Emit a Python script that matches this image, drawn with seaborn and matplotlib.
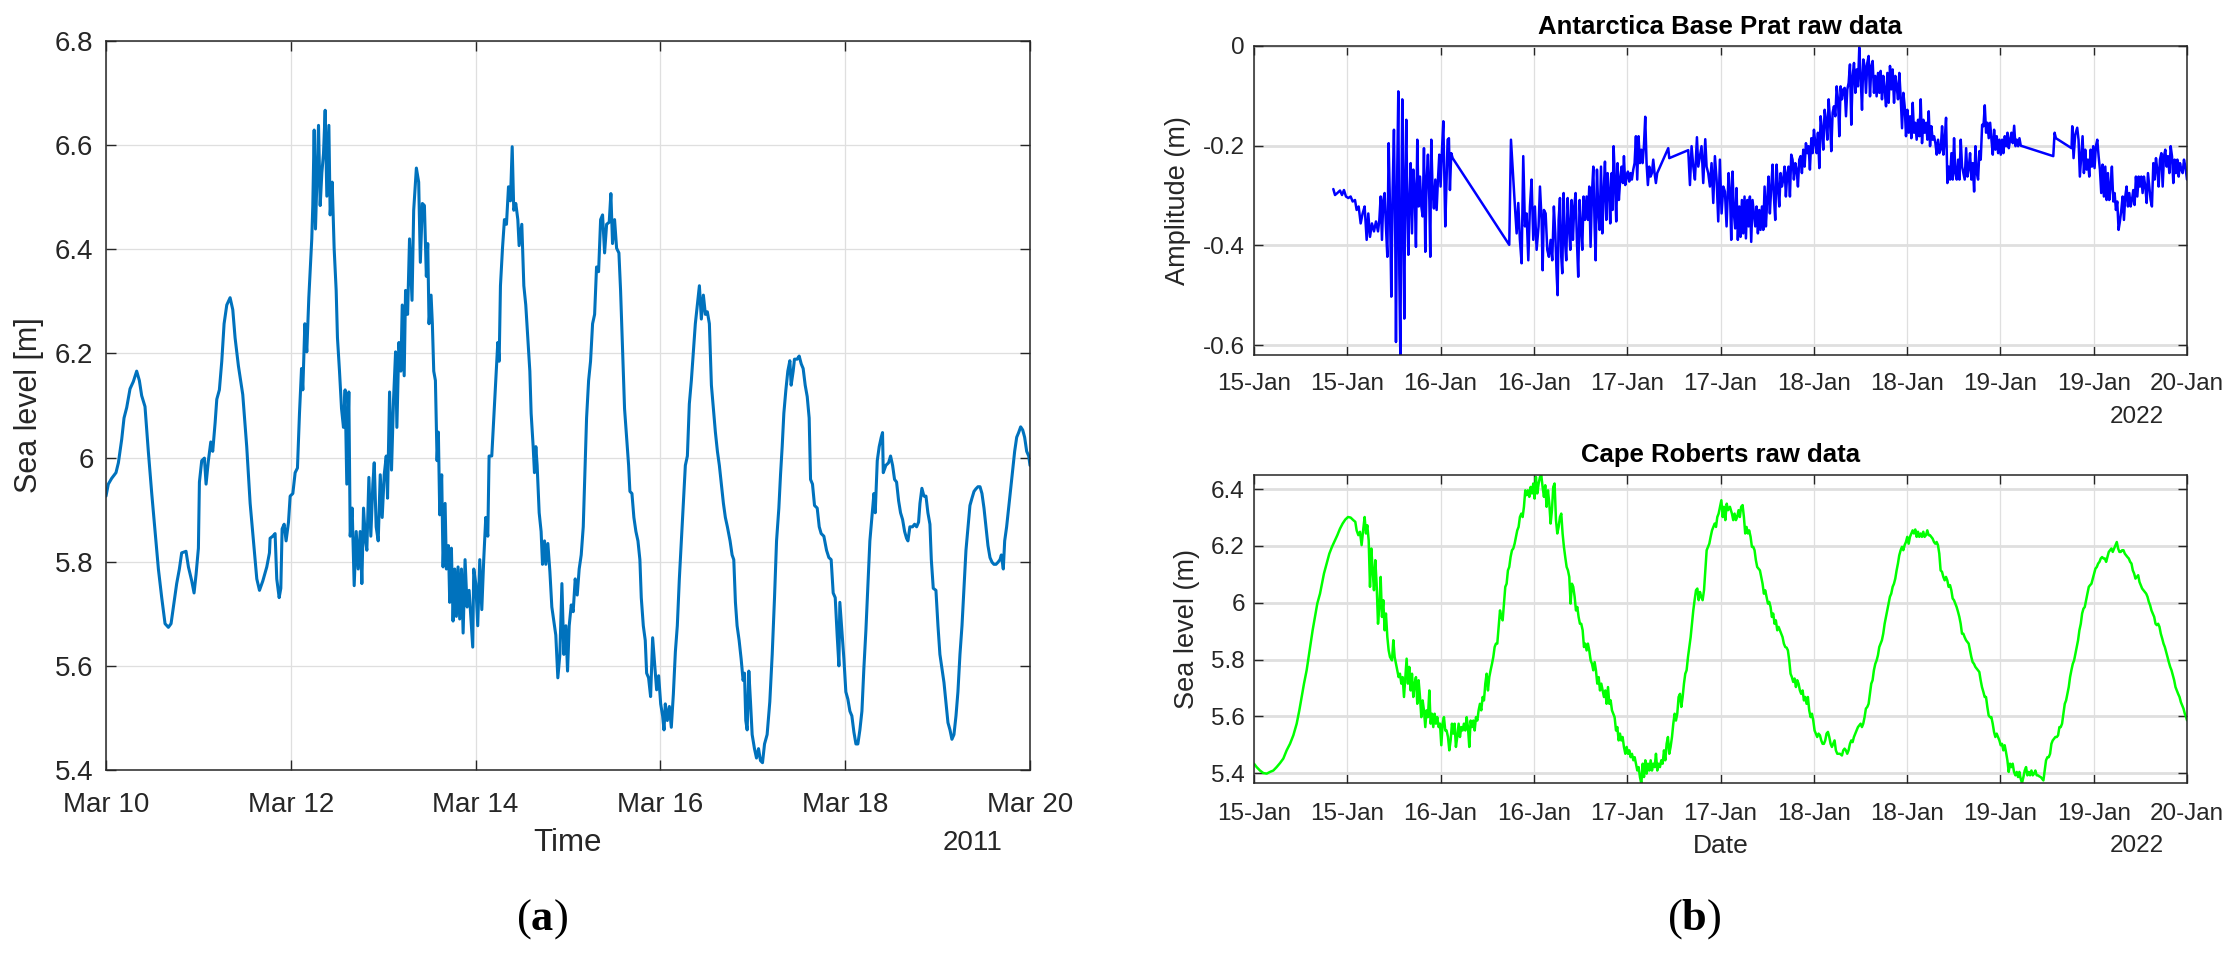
"""Sea level records: (a) tide gauge, March 2011; (b) Antarctic stations, January 2022."""

import matplotlib

matplotlib.use("Agg")

import matplotlib.dates as mdates
import matplotlib.pyplot as plt
import matplotlib.ticker as mticker
import pandas as pd
import seaborn as sns

# ---- panel (a): sea level [m], time in days after 2011-03-10 00:00 ----
A_START = "2011-03-10"
a_days = [
    0, 0.025, 0.061, 0.108, 0.134, 0.17, 0.195, 0.224, 0.26, 0.296,
    0.332, 0.361, 0.386, 0.422, 0.458, 0.495, 0.531, 0.567, 0.603, 0.639,
    0.675, 0.704, 0.736, 0.765, 0.794, 0.819, 0.866, 0.892, 0.928, 0.953,
    0.975, 1.0, 1.011, 1.036, 1.065, 1.083, 1.108, 1.134, 1.155, 1.181,
    1.199, 1.227, 1.253, 1.278, 1.307, 1.343, 1.372, 1.397, 1.433, 1.48,
    1.523, 1.56, 1.596, 1.632, 1.661, 1.697, 1.74, 1.769, 1.776, 1.805,
    1.83, 1.848, 1.874, 1.892, 1.906, 1.928, 1.949, 1.975, 1.993, 2.022,
    2.047, 2.072, 2.094, 2.116, 2.13, 2.152, 2.173, 2.195, 2.209, 2.227,
    2.238, 2.253, 2.267, 2.282, 2.3, 2.318, 2.336, 2.354, 2.372, 2.39,
    2.412, 2.426, 2.448, 2.469, 2.491, 2.505, 2.527, 2.549, 2.57, 2.588,
    2.606, 2.628, 2.643, 2.664, 2.686, 2.708, 2.729, 2.751, 2.769, 2.787,
    2.809, 2.823, 2.845, 2.866, 2.888, 2.903, 2.924, 2.946, 2.968, 2.989,
    3.011, 3.033, 3.047, 3.069, 3.09, 3.112, 3.134, 3.148, 3.17, 3.191,
    3.206, 3.227, 3.242, 3.264, 3.285,
    3.312, 3.33, 3.359, 3.384, 3.402, 3.424, 3.446, 3.467, 3.482, 3.496,
    3.518, 3.532, 3.547, 3.565, 3.583, 3.597, 3.612, 3.633, 3.648, 3.67,
    3.684, 3.706, 3.72, 3.738, 3.756, 3.774, 3.792, 3.81, 3.828, 3.847,
    3.865, 3.886, 3.908, 3.93, 3.951, 3.969, 3.98, 4.002, 4.023, 4.045,
    4.067, 4.088, 4.11, 4.132, 4.146, 4.175, 4.197, 4.219, 4.24, 4.255,
    4.269, 4.291, 4.312, 4.334, 4.356, 4.377, 4.396, 4.413, 4.435, 4.457,
    4.471, 4.5, 4.522, 4.543, 4.565, 4.587, 4.601, 4.623, 4.637, 4.652,
    4.666, 4.688, 4.709, 4.724, 4.746, 4.76, 4.782, 4.804, 4.825, 4.847,
    4.868, 4.89, 4.912, 4.934, 4.955, 4.977, 4.995, 5.013, 5.035, 5.056,
    5.078, 5.1, 5.121, 5.143, 5.165, 5.179, 5.201, 5.223, 5.244, 5.266,
    5.288, 5.309, 5.331, 5.353, 5.374, 5.396, 5.418, 5.446, 5.464, 5.482,
    5.504, 5.526, 5.551, 5.569, 5.591, 5.612, 5.634, 5.656, 5.67, 5.692,
    5.713, 5.735, 5.757, 5.778, 5.793, 5.815, 5.836, 5.851, 5.872, 5.894,
    5.916, 5.938, 5.959, 5.981, 6.003, 6.024, 6.039, 6.053, 6.075, 6.097,
    6.118, 6.14, 6.162, 6.183, 6.205, 6.227, 6.248, 6.27, 6.292, 6.313,
    6.335, 6.357, 6.378, 6.4, 6.422, 6.443, 6.465, 6.487, 6.508, 6.53,
    6.552, 6.573, 6.595, 6.617, 6.638, 6.66, 6.682, 6.703, 6.725, 6.754,
    6.776, 6.794, 6.812, 6.83, 6.852, 6.874, 6.895, 6.91, 6.924, 6.939,
    6.957, 6.975, 6.993, 7.018, 7.04, 7.062, 7.083, 7.105, 7.127, 7.155,
    7.184, 7.21, 7.235, 7.257, 7.282, 7.3, 7.318, 7.336, 7.358, 7.379,
    7.401, 7.415, 7.437, 7.451, 7.48, 7.502, 7.524, 7.545, 7.567, 7.589,
    7.61, 7.625, 7.646, 7.668, 7.697, 7.719, 7.74, 7.769, 7.798, 7.823,
    7.848, 7.87, 7.892, 7.913, 7.932, 7.942, 7.964, 7.986, 8.007, 8.029,
    8.051, 8.072, 8.094, 8.116, 8.137, 8.159, 8.181, 8.202, 8.224, 8.246,
    8.267, 8.293, 8.311, 8.325, 8.347, 8.368, 8.39, 8.404, 8.412, 8.44,
    8.469, 8.491, 8.513, 8.534, 8.556, 8.578, 8.599, 8.621, 8.643, 8.664,
    8.679, 8.7, 8.729, 8.751, 8.773, 8.794, 8.809, 8.83, 8.852, 8.874,
    8.895, 8.917, 8.932, 8.953, 8.982, 9.004, 9.025, 9.047, 9.069, 9.09,
    9.112, 9.134, 9.155, 9.177, 9.199, 9.22, 9.242, 9.264, 9.285, 9.307,
    9.329, 9.35, 9.372, 9.394, 9.415, 9.437, 9.459, 9.48, 9.502, 9.524,
    9.545, 9.567, 9.589, 9.61, 9.632, 9.654, 9.675, 9.69, 9.711, 9.726,
    9.747, 9.769, 9.791, 9.812, 9.834, 9.856, 9.877, 9.899, 9.921, 9.942,
    9.964, 9.986, 10.0,
]
a_level = [
    5.926, 5.949, 5.96, 5.971, 5.99, 6.035, 6.076, 6.096, 6.132, 6.146,
    6.166, 6.148, 6.119, 6.098, 6.012, 5.931, 5.858, 5.786, 5.731, 5.681,
    5.674, 5.681, 5.722, 5.758, 5.786, 5.817, 5.82, 5.79, 5.763, 5.74,
    5.776, 5.826, 5.953, 5.994, 5.999, 5.949, 5.994, 6.03, 6.012, 6.067,
    6.112, 6.13, 6.185, 6.257, 6.293, 6.307, 6.284, 6.23, 6.176, 6.121,
    6.021, 5.912, 5.84, 5.767, 5.745, 5.763, 5.79, 5.817, 5.845, 5.849,
    5.854, 5.767, 5.731, 5.749, 5.863, 5.872, 5.84, 5.876, 5.926, 5.931,
    5.971, 5.98, 6.085, 6.171, 6.13, 6.257, 6.203, 6.307, 6.357, 6.42,
    6.484, 6.629, 6.439, 6.529, 6.638, 6.484, 6.547, 6.584, 6.667, 6.502,
    6.638, 6.466, 6.529, 6.402, 6.321, 6.23, 6.166, 6.094, 6.058, 6.13,
    5.949, 6.126, 5.849, 5.903, 5.754, 5.858, 5.786, 5.858, 5.758, 5.903,
    5.84, 5.822, 5.962, 5.849, 5.949, 5.99, 5.867, 5.84, 5.967, 5.885,
    5.967, 6.003, 5.922, 6.126, 5.976, 6.112, 6.203, 6.058, 6.221, 6.166,
    6.293, 6.157, 6.321, 6.275, 6.42,
    6.302, 6.475, 6.556, 6.529, 6.375, 6.488, 6.484, 6.348, 6.411, 6.257,
    6.312, 6.257, 6.166, 6.148, 5.994, 6.049, 5.89, 5.967, 5.79, 5.912,
    5.786, 5.831, 5.722, 5.826, 5.686, 5.786, 5.695, 5.79, 5.69, 5.786,
    5.663, 5.804, 5.713, 5.745, 5.686, 5.636, 5.786, 5.758, 5.677, 5.804,
    5.708, 5.804, 5.885, 5.849, 6.003, 6.003, 6.076, 6.148, 6.221, 6.185,
    6.33, 6.402, 6.457, 6.448, 6.52, 6.493, 6.597, 6.475, 6.488, 6.457,
    6.407, 6.448, 6.33, 6.293, 6.23, 6.166, 6.085, 6.021, 5.971, 6.021,
    5.985, 5.894, 5.858, 5.795, 5.84, 5.795, 5.835, 5.781, 5.713, 5.686,
    5.659, 5.577, 5.622, 5.758, 5.622, 5.677, 5.59, 5.677, 5.717, 5.704,
    5.767, 5.736, 5.786, 5.813, 5.867, 5.949, 6.076, 6.148, 6.185, 6.257,
    6.275, 6.366, 6.357, 6.457, 6.466, 6.393, 6.448, 6.452, 6.507, 6.411,
    6.457, 6.402, 6.393, 6.321, 6.203, 6.094, 6.039, 5.985, 5.935, 5.931,
    5.885, 5.858, 5.84, 5.804, 5.731, 5.677, 5.649, 5.586, 5.577, 5.541,
    5.654, 5.604, 5.554, 5.581, 5.527, 5.504, 5.477, 5.527, 5.495, 5.522,
    5.482, 5.545, 5.627, 5.677, 5.767, 5.84, 5.908, 5.985, 6.003, 6.103,
    6.148, 6.203, 6.257, 6.293, 6.33, 6.266, 6.312, 6.275, 6.28, 6.257,
    6.139, 6.094, 6.049, 6.012, 5.985, 5.949, 5.912, 5.885, 5.867, 5.84,
    5.813, 5.804, 5.722, 5.677, 5.649, 5.613, 5.572, 5.586, 5.495, 5.477,
    5.59, 5.531, 5.468, 5.441, 5.423, 5.441, 5.418, 5.414, 5.45, 5.468,
    5.531, 5.622, 5.731, 5.84, 5.903, 5.967, 6.021, 6.085, 6.13, 6.166,
    6.186, 6.139, 6.166, 6.189, 6.189, 6.195, 6.18, 6.171, 6.139, 6.117,
    6.076, 5.958, 5.949, 5.908, 5.903, 5.867, 5.854, 5.849, 5.822, 5.808,
    5.804, 5.74, 5.731, 5.659, 5.6, 5.722, 5.668, 5.613, 5.55, 5.536,
    5.513, 5.504, 5.473, 5.45, 5.45, 5.477, 5.513, 5.595, 5.668, 5.758,
    5.84, 5.894, 5.931, 5.894, 5.994, 6.021, 6.039, 6.048, 5.971, 5.985,
    5.99, 6.003, 5.985, 5.958, 5.953, 5.917, 5.894, 5.881, 5.858, 5.845,
    5.84, 5.867, 5.867, 5.872, 5.867, 5.876, 5.912, 5.941, 5.926, 5.926,
    5.894, 5.872, 5.804, 5.749, 5.745, 5.677, 5.622, 5.595, 5.568, 5.531,
    5.491, 5.477, 5.459, 5.468, 5.504, 5.55, 5.622, 5.677, 5.749, 5.822,
    5.867, 5.908, 5.922, 5.935, 5.94, 5.944, 5.944, 5.931, 5.903, 5.867,
    5.831, 5.808, 5.799, 5.795, 5.795, 5.799, 5.804, 5.813, 5.786, 5.84,
    5.867, 5.903, 5.94, 5.976, 6.012, 6.039, 6.048, 6.059, 6.053, 6.039,
    6.012, 6.003, 5.985,
]
a_xticks = ["2011-03-10", "2011-03-12", "2011-03-14", "2011-03-16", "2011-03-18", "2011-03-20"]
a_yticks = [5.4, 5.6, 5.8, 6.0, 6.2, 6.4, 6.6, 6.8]

# ---- panel (b): time in hours after 2022-01-15 00:00 ----
B_START = "2022-01-15"
prat_hours = [
    10.2, 10.42, 10.72, 11.06, 11.32, 11.57, 11.83, 12.13, 12.43, 12.69,
    12.99, 13.2, 13.46, 13.72, 13.97, 14.23, 14.49, 14.7, 14.92, 15.17,
    15.43, 15.69, 15.95, 16.12, 16.29, 16.46, 16.63, 16.8, 16.97, 17.15,
    17.32, 17.49, 17.66, 17.83, 18.0, 18.17, 18.26, 18.43, 18.56, 18.69,
    18.82, 18.95, 19.07, 19.2, 19.33, 19.46, 19.59, 19.72, 19.85, 19.97,
    20.15, 20.32, 20.49, 20.66, 20.83, 21.0, 21.17, 21.35, 21.52, 21.69,
    21.86, 22.03, 22.2, 22.37, 22.55, 22.67, 22.8, 22.97, 23.14, 23.32,
    23.49, 23.66, 23.83, 24.0, 24.18, 24.35, 24.47, 24.6, 24.77, 24.9,
    25.07, 25.2, 25.37, 25.55, 32.83, 33.05, 33.35, 33.56, 33.78, 33.99,
    34.2, 34.42, 34.63, 34.85, 35.06, 35.28, 35.49, 35.7, 35.92, 36.13,
    36.35, 36.6, 36.78, 36.99, 37.12, 37.29, 37.51, 37.72, 37.93, 38.15,
    38.36, 38.57, 38.75, 38.92, 39.05, 39.18, 39.35, 39.52, 39.65, 39.82,
    39.99, 40.16, 40.34, 40.51, 40.68, 40.85, 41.02, 41.19, 41.36, 41.53,
    41.7, 41.88, 42.05, 42.22, 42.39, 42.56, 42.78, 42.95, 43.12, 43.29,
    43.47, 43.64, 43.81, 43.94, 44.11, 44.28, 44.45, 44.63, 44.8, 44.97,
    45.14, 45.31, 45.48, 45.65, 45.82, 46.0, 46.12, 46.25, 46.42, 46.59,
    46.76, 46.93, 47.1, 47.28, 47.45, 47.58, 47.75, 47.92, 48.09, 48.26,
    48.43, 48.6, 48.78, 48.95, 49.12, 49.29, 49.46, 49.63, 49.81, 49.98,
    50.15, 50.32, 50.49, 50.66, 50.84, 51.01, 51.18, 51.35, 51.52, 51.69,
    51.86, 53.28, 53.41, 55.85, 56.07, 56.28, 56.5, 56.71, 56.97, 57.14,
    57.35, 57.56, 57.78, 58.04, 58.21, 58.42, 58.64, 58.85, 59.07, 59.28,
    59.5, 59.71, 59.92, 60.14, 60.36, 60.57, 60.78, 61.04,
    61.21, 61.38, 61.55, 61.72, 61.89, 62.06, 62.23, 62.41, 62.58, 62.75,
    62.92, 63.09, 63.27, 63.44, 63.61, 63.78, 63.95, 64.12, 64.3, 64.47,
    64.64, 64.81, 64.98, 65.15, 65.33, 65.5, 65.67, 65.84, 66.01, 66.18,
    66.35, 66.53, 66.7, 66.87, 67.04, 67.21, 67.38, 67.56, 67.73, 67.9,
    68.07, 68.24, 68.41, 68.59, 68.76, 68.93, 69.1, 69.27, 69.44, 69.62,
    69.79, 69.96, 70.13, 70.3, 70.47, 70.65, 70.82, 70.99, 71.16, 71.33,
    71.5, 71.68, 71.85, 72.02, 72.19, 72.36, 72.53, 72.71, 72.88, 73.05,
    73.22, 73.39, 73.56, 73.74, 73.91, 74.08, 74.25, 74.42, 74.59, 74.77,
    74.94, 75.11, 75.28, 75.45, 75.62, 75.8, 75.97, 76.14, 76.31, 76.48,
    76.65, 76.82, 77.0, 77.17, 77.34, 77.51, 77.68, 77.85, 78.02, 78.2,
    78.37, 78.54, 78.71, 78.88, 79.05, 79.23, 79.4, 79.57, 79.74, 79.91,
    80.08, 80.26, 80.43, 80.6, 80.77, 80.94, 81.11, 81.29, 81.46, 81.63,
    81.8, 81.97, 82.14, 82.32, 82.49, 82.66, 82.83, 83.0, 83.17, 83.35,
    83.52, 83.69, 83.86, 84.03, 84.2, 84.38, 84.55, 84.72, 84.89, 85.06,
    85.23, 85.41, 85.58, 85.75, 85.92, 86.09, 86.26, 86.44, 86.61, 86.78,
    86.95, 87.12, 87.29, 87.47, 87.64, 87.81, 87.98, 88.15, 88.32, 88.5,
    88.67, 88.84, 89.01, 89.18, 89.35, 89.53, 89.7, 89.87, 90.04, 90.21,
    90.38, 90.56, 90.73, 90.9, 91.07, 91.24, 91.41, 91.59, 91.76, 91.93,
    92.1, 92.27, 92.44, 92.62, 92.79, 92.96, 93.13, 93.3, 93.47, 93.65,
    93.82, 93.99, 94.16, 94.33, 94.5, 94.68, 94.85, 95.02, 95.19, 95.36,
    95.53, 95.71, 95.88, 96.05, 96.22, 96.39, 96.56, 96.74, 96.91, 97.08,
    97.25, 97.42, 97.59, 97.77, 97.94, 98.11, 98.28, 98.45, 98.62, 102.8,
    102.97, 103.14, 105.15, 105.24, 105.41, 105.62, 105.88, 106.05, 106.22, 106.4,
    106.57, 106.74, 106.91, 107.08, 107.25, 107.43, 107.6, 107.77, 107.94, 108.11,
    108.28, 108.46, 108.63, 108.8, 108.97, 109.14, 109.31, 109.49, 109.66, 109.83,
    110.0, 110.17, 110.34, 110.52, 110.69, 110.86, 111.03, 111.2, 111.37, 111.55,
    111.72, 111.89, 112.06, 112.23, 112.4, 112.58, 112.75, 112.92, 113.09, 113.26,
    113.43, 113.61, 113.78, 113.95, 114.12, 114.29, 114.46, 114.64, 114.81, 114.98,
    115.15, 115.32, 115.49, 115.67, 115.84, 116.01, 116.18, 116.35, 116.52, 116.7,
    116.87, 117.04, 117.21, 117.38, 117.55, 117.73, 117.9, 118.07, 118.24, 118.41,
    118.58, 118.76, 118.93, 119.1, 119.27, 119.44, 119.61, 119.79, 120.0,
]
prat_amp = [
    -0.287, -0.299, -0.295, -0.29, -0.299, -0.289, -0.302, -0.305, -0.302, -0.312,
    -0.309, -0.329, -0.322, -0.356, -0.336, -0.322, -0.389, -0.336, -0.383, -0.356,
    -0.372, -0.352, -0.372, -0.349, -0.302, -0.389, -0.309, -0.295, -0.362, -0.423,
    -0.195, -0.322, -0.503, -0.289, -0.168, -0.389, -0.594, -0.242, -0.091, -0.456,
    -0.621, -0.322, -0.107, -0.356, -0.547, -0.255, -0.148, -0.322, -0.419, -0.322,
    -0.235, -0.376, -0.248, -0.289, -0.403, -0.188, -0.322, -0.262, -0.322, -0.342,
    -0.205, -0.413, -0.268, -0.218, -0.309, -0.423, -0.188, -0.289, -0.326, -0.268,
    -0.329, -0.268, -0.218, -0.282, -0.208, -0.151, -0.255, -0.362, -0.268, -0.188,
    -0.185, -0.289, -0.215, -0.225, -0.399, -0.188, -0.268, -0.322, -0.376, -0.315,
    -0.389, -0.436, -0.221, -0.362, -0.336, -0.43, -0.322, -0.268, -0.389, -0.322,
    -0.409, -0.362, -0.282, -0.349, -0.45, -0.329, -0.336, -0.409, -0.423, -0.389,
    -0.43, -0.322, -0.376, -0.456, -0.5, -0.349, -0.305, -0.423, -0.456, -0.295,
    -0.389, -0.43, -0.305, -0.362, -0.409, -0.309, -0.389, -0.322, -0.295, -0.389,
    -0.463, -0.309, -0.362, -0.409, -0.302, -0.349, -0.302, -0.349, -0.282, -0.403,
    -0.295, -0.242, -0.362, -0.43, -0.248, -0.329, -0.369, -0.242, -0.376, -0.295,
    -0.232, -0.349, -0.255, -0.289, -0.356, -0.255, -0.329, -0.201, -0.268, -0.352,
    -0.235, -0.309, -0.268, -0.242, -0.275, -0.221, -0.279, -0.262, -0.252, -0.272,
    -0.255, -0.268, -0.248, -0.235, -0.181, -0.268, -0.181, -0.235, -0.208, -0.235,
    -0.201, -0.142, -0.235, -0.279, -0.242, -0.262, -0.255, -0.228, -0.255, -0.275,
    -0.255, -0.205, -0.225, -0.209, -0.279, -0.201, -0.242, -0.268, -0.183, -0.242,
    -0.221, -0.201, -0.275, -0.187, -0.242, -0.255, -0.282, -0.235, -0.315, -0.221,
    -0.268, -0.352, -0.228, -0.336, -0.282, -0.292, -0.362, -0.255,
    -0.289, -0.389, -0.252, -0.336, -0.366, -0.285, -0.389, -0.322, -0.383, -0.309,
    -0.376, -0.302, -0.386, -0.309, -0.362, -0.302, -0.393, -0.309, -0.336, -0.362,
    -0.322, -0.376, -0.329, -0.369, -0.322, -0.369, -0.282, -0.362, -0.309, -0.262,
    -0.336, -0.282, -0.238, -0.302, -0.349, -0.238, -0.282, -0.322, -0.255, -0.282,
    -0.268, -0.242, -0.302, -0.255, -0.242, -0.302, -0.218, -0.228, -0.268, -0.235,
    -0.248, -0.282, -0.228, -0.221, -0.255, -0.208, -0.242, -0.195, -0.215, -0.201,
    -0.248, -0.185, -0.215, -0.168, -0.195, -0.215, -0.174, -0.245, -0.141, -0.168,
    -0.208, -0.128, -0.148, -0.188, -0.107, -0.148, -0.211, -0.134, -0.121, -0.141,
    -0.081, -0.107, -0.181, -0.081, -0.107, -0.087, -0.084, -0.141, -0.087, -0.074,
    -0.037, -0.158, -0.06, -0.034, -0.094, -0.047, -0.081, -0.003, -0.06, -0.128,
    -0.027, -0.04, -0.094, -0.034, -0.02, -0.101, -0.04, -0.03, -0.094, -0.06,
    -0.101, -0.054, -0.094, -0.05, -0.107, -0.06, -0.087, -0.121, -0.054, -0.114,
    -0.04, -0.087, -0.047, -0.114, -0.06, -0.081, -0.107, -0.054, -0.101, -0.165,
    -0.094, -0.121, -0.181, -0.128, -0.174, -0.141, -0.185, -0.114, -0.174, -0.154,
    -0.188, -0.148, -0.181, -0.107, -0.195, -0.148, -0.174, -0.154, -0.188, -0.131,
    -0.201, -0.161, -0.188, -0.181, -0.195, -0.218, -0.188, -0.215, -0.208, -0.161,
    -0.218, -0.188, -0.144, -0.275, -0.242, -0.268, -0.215, -0.268, -0.185, -0.255,
    -0.268, -0.228, -0.268, -0.188, -0.242, -0.255, -0.268, -0.205, -0.262, -0.245,
    -0.215, -0.268, -0.235, -0.292, -0.201, -0.255, -0.268, -0.211, -0.228, -0.158,
    -0.161, -0.119, -0.174, -0.154, -0.185, -0.154, -0.188, -0.218, -0.168, -0.208,
    -0.181, -0.215, -0.188, -0.218, -0.188, -0.215, -0.181, -0.201, -0.174, -0.205,
    -0.188, -0.174, -0.195, -0.16, -0.201, -0.188, -0.201, -0.185, -0.2, -0.221,
    -0.174, -0.185, -0.205, -0.161, -0.225, -0.178, -0.164, -0.188, -0.262, -0.221,
    -0.181, -0.255, -0.208, -0.248, -0.228, -0.262, -0.208, -0.242, -0.201, -0.245,
    -0.201, -0.188, -0.221, -0.248, -0.295, -0.238, -0.302, -0.242, -0.309, -0.255,
    -0.309, -0.282, -0.242, -0.312, -0.295, -0.329, -0.312, -0.369, -0.352, -0.329,
    -0.302, -0.349, -0.302, -0.282, -0.322, -0.295, -0.322, -0.309, -0.289, -0.319,
    -0.262, -0.302, -0.262, -0.282, -0.262, -0.295, -0.262, -0.282, -0.315, -0.255,
    -0.282, -0.309, -0.322, -0.235, -0.268, -0.225, -0.248, -0.282, -0.228, -0.215,
    -0.282, -0.221, -0.208, -0.242, -0.221, -0.255, -0.201, -0.221, -0.275, -0.228,
    -0.255, -0.228, -0.262, -0.235, -0.248, -0.255, -0.228, -0.242, -0.268,
]
prat_yticks = [-0.6, -0.4, -0.2, 0.0]

roberts_hours = [
    0, 0.34, 0.77, 1.2, 1.63, 2.06, 2.49, 2.91, 3.34, 3.77,
    4.2, 4.63, 5.06, 5.49, 5.83, 6.13, 6.43, 6.77, 7.03, 7.29,
    7.54, 7.84, 8.14, 8.49, 8.74, 9.0, 9.34, 9.69, 10.03, 10.42,
    10.72, 11.06, 11.4, 11.74, 12.09, 12.43, 12.77, 13.03, 13.2, 13.42,
    13.63, 13.84, 14.06, 14.23, 14.4, 14.57, 14.75, 14.92, 15.09, 15.26,
    15.43, 15.6, 15.77, 15.95, 16.12, 16.29, 16.46, 16.63, 16.8, 16.97,
    17.15, 17.32, 17.49, 17.75, 17.92, 18.09, 18.26, 18.43, 18.6, 18.77,
    18.95, 19.12, 19.29, 19.46, 19.63, 19.8, 19.97, 20.15, 20.32, 20.49,
    20.66, 20.83, 21.0, 21.17, 21.35, 21.52, 21.69, 21.86, 22.03, 22.2,
    22.37, 22.55, 22.72, 22.89, 23.06, 23.23, 23.4, 23.57, 23.75, 23.92,
    24.09, 24.26, 24.43, 24.6, 24.77, 24.95, 25.12, 25.29, 25.46, 25.63,
    25.8, 25.97, 26.14, 26.32, 26.49, 26.66, 26.83, 27.0, 27.18, 27.35,
    27.52, 27.69, 27.86, 28.03, 28.21, 28.38, 28.55, 28.72, 28.89, 29.06,
    29.23, 29.41, 29.58, 29.75, 29.92, 30.09, 30.26, 30.43, 30.61, 30.78,
    30.95, 31.12, 31.29, 31.46, 31.64, 31.81, 31.98, 32.15, 32.32, 32.49,
    32.66, 32.83, 33.0, 33.18, 33.35, 33.52, 33.69, 33.86, 34.03, 34.2,
    34.38, 34.55, 34.72, 34.89, 35.06, 35.23, 35.41, 35.58, 35.75, 35.92,
    36.09, 36.26, 36.43, 36.61, 36.78, 36.95, 37.12, 37.29, 37.46, 37.63,
    37.81, 37.98, 38.15, 38.32, 38.49, 38.66, 38.84, 39.01, 39.18, 39.35,
    39.52, 39.69, 39.86, 40.03, 40.21, 40.38, 40.55, 40.72, 40.89, 41.06,
    41.24, 41.41, 41.58, 41.75, 41.92, 42.09, 42.27, 42.44, 42.61, 42.78,
    42.95, 43.12, 43.3, 43.47, 43.64, 43.81, 43.98, 44.15, 44.33, 44.5,
    44.67, 44.84, 45.01, 45.18, 45.35, 45.53, 45.7, 45.87, 46.04, 46.21,
    46.38, 46.56, 46.73, 46.9, 47.07, 47.24, 47.41, 47.58, 47.76, 47.93,
    48.1, 48.27, 48.44, 48.61, 48.79, 48.96, 49.13, 49.3, 49.47, 49.64,
    49.82, 49.99, 50.16, 50.33, 50.5, 50.67, 50.85, 51.02, 51.19, 51.35,
    51.53, 51.7, 51.87, 52.04, 52.21, 52.38, 52.56, 52.73, 52.9, 53.07,
    53.24, 53.41, 53.58, 53.76, 53.93, 54.1, 54.27, 54.44, 54.61, 54.79,
    54.96, 55.13, 55.3, 55.47, 55.64, 55.82, 55.99, 56.16, 56.33, 56.5,
    56.67, 56.85, 57.02, 57.19, 57.36, 57.53, 57.7, 57.88, 58.05, 58.22,
    58.39, 58.56, 58.73, 58.91, 59.08, 59.25, 59.42, 59.59, 59.76, 59.94,
    60.11, 60.28, 60.45, 60.62, 60.8, 60.97,
    61.21, 61.47, 61.64, 61.81, 61.98, 62.15, 62.32, 62.49, 62.66, 62.84,
    63.01, 63.18, 63.35, 63.52, 63.69, 63.87, 64.04, 64.21, 64.38, 64.55,
    64.72, 64.89, 65.07, 65.24, 65.41, 65.58, 65.75, 65.92, 66.1, 66.27,
    66.44, 66.61, 66.78, 66.95, 67.12, 67.3, 67.47, 67.64, 67.81, 67.98,
    68.15, 68.33, 68.5, 68.67, 68.84, 69.01, 69.18, 69.35, 69.53, 69.7,
    69.87, 70.04, 70.21, 70.38, 70.56, 70.73, 70.9, 71.07, 71.24, 71.41,
    71.59, 71.76, 71.93, 72.1, 72.27, 72.44, 72.61, 72.79, 72.96, 73.13,
    73.3, 73.47, 73.64, 73.82, 73.99, 74.16, 74.33, 74.5, 74.67, 74.84,
    75.02, 75.19, 75.36, 75.62, 75.79, 75.96, 76.13, 76.3, 76.47, 76.65,
    76.82, 76.99, 77.16, 77.33, 77.5, 77.68, 77.85, 78.02, 78.19, 78.36,
    78.53, 78.7, 78.88, 79.05, 79.22, 79.39, 79.56, 79.73, 79.91, 80.08,
    80.25, 80.42, 80.59, 80.76, 80.93, 81.11, 81.28, 81.45, 81.62, 81.79,
    81.96, 82.14, 82.31, 82.48, 82.65, 82.82, 82.99, 83.17, 83.34, 83.51,
    83.68, 83.85, 84.02, 84.2, 84.37, 84.54, 84.71, 84.88, 85.05, 85.23,
    85.4, 85.57, 85.74, 85.91, 86.08, 86.25, 86.43, 86.6, 86.77, 86.94,
    87.11, 87.28, 87.46, 87.63, 87.8, 87.97, 88.14, 88.31, 88.49, 88.66,
    88.83, 89.0, 89.17, 89.34, 89.52, 89.69, 89.86, 90.03, 90.2, 90.37,
    90.55, 90.72, 90.89, 91.06, 91.23, 91.4, 91.58, 91.75, 91.92, 92.09,
    92.26, 92.43, 92.6, 92.78, 92.95, 93.12, 93.29, 93.46, 93.63, 93.81,
    93.98, 94.15, 94.32, 94.49, 94.66, 94.84, 95.01, 95.18, 95.35, 95.52,
    95.69, 95.87, 96.04, 96.21, 96.38, 96.55, 96.72, 96.9, 97.07, 97.24,
    97.41, 97.58, 97.75, 97.93, 98.1, 98.27, 98.44, 98.61, 98.78, 98.96,
    99.13, 99.3, 99.47, 99.64, 99.81, 99.99, 100.16, 100.33, 100.5, 100.67,
    100.84, 101.02, 101.19, 101.36, 101.53, 101.7, 101.87, 102.05, 102.22, 102.39,
    102.56, 102.73, 102.9, 103.07, 103.25, 103.42, 103.59, 103.76, 103.93, 104.1,
    104.28, 104.45, 104.62, 104.79, 104.96, 105.13, 105.31, 105.48, 105.65, 105.82,
    105.99, 106.16, 106.34, 106.51, 106.68, 106.85, 107.02, 107.19, 107.37, 107.54,
    107.71, 107.88, 108.05, 108.22, 108.4, 108.57, 108.74, 108.91, 109.08, 109.25,
    109.43, 109.6, 109.77, 109.94, 110.11, 110.28, 110.45, 110.63, 110.8, 110.97,
    111.14, 111.31, 111.48, 111.66, 111.83, 112.0, 112.17, 112.34, 112.51, 112.69,
    112.86, 113.03, 113.2, 113.37, 113.54, 113.72, 113.89, 114.06, 114.23, 114.4,
    114.57, 114.75, 114.92, 115.09, 115.26, 115.43, 115.6, 115.78, 115.95, 116.12,
    116.29, 116.46, 116.63, 116.81, 116.98, 117.15, 117.32, 117.49, 117.66, 117.84,
    118.01, 118.18, 118.35, 118.52, 118.69, 118.86, 119.04, 119.21, 119.38, 119.55,
    119.72, 119.89, 120.0,
]
roberts_level = [
    5.433, 5.421, 5.409, 5.4, 5.398, 5.404, 5.409, 5.421, 5.435, 5.451,
    5.48, 5.503, 5.533, 5.574, 5.621, 5.668, 5.715, 5.762, 5.809, 5.856,
    5.903, 5.95, 5.997, 6.032, 6.067, 6.103, 6.138, 6.173, 6.197, 6.22,
    6.238, 6.261, 6.279, 6.293, 6.302, 6.3, 6.291, 6.285, 6.255, 6.238,
    6.25, 6.203, 6.261, 6.302, 6.244, 6.273, 6.22, 6.056, 6.191, 6.114,
    6.044, 6.15, 6.067, 5.926, 5.985, 6.091, 5.95, 6.009, 5.903, 5.962,
    5.879, 5.832, 5.809, 5.797, 5.868, 5.809, 5.785, 5.762, 5.738, 5.75,
    5.715, 5.738, 5.668, 5.733, 5.803, 5.715, 5.774, 5.691, 5.75, 5.668,
    5.715, 5.738, 5.644, 5.727, 5.668, 5.597, 5.656, 5.621, 5.562, 5.621,
    5.597, 5.691, 5.574, 5.609, 5.562, 5.609, 5.574, 5.597, 5.562, 5.574,
    5.498, 5.574, 5.597, 5.55, 5.55, 5.527, 5.48, 5.515, 5.574, 5.539,
    5.574, 5.492, 5.527, 5.574, 5.527, 5.562, 5.55, 5.574, 5.55, 5.597,
    5.562, 5.492, 5.585, 5.562, 5.585, 5.55, 5.597, 5.585, 5.621, 5.644,
    5.621, 5.668, 5.656, 5.715, 5.75, 5.691, 5.738, 5.762, 5.785, 5.809,
    5.844, 5.856, 5.856, 5.915, 5.973, 5.95, 5.938, 5.997, 6.056, 6.067,
    6.114, 6.126, 6.161, 6.185, 6.191, 6.208, 6.232, 6.255, 6.267, 6.302,
    6.314, 6.302, 6.338, 6.396, 6.379, 6.396, 6.373, 6.408, 6.385, 6.42,
    6.367, 6.443, 6.385, 6.42, 6.443, 6.449, 6.408, 6.373, 6.414, 6.338,
    6.396, 6.349, 6.279, 6.326, 6.408, 6.42, 6.291, 6.244, 6.267, 6.302,
    6.314, 6.244, 6.197, 6.161, 6.126, 6.114, 6.091, 5.997, 6.067, 6.056,
    6.021, 5.973, 5.985, 5.95, 5.926, 5.926, 5.903, 5.844, 5.856, 5.832,
    5.856, 5.832, 5.797, 5.785, 5.762, 5.791, 5.762, 5.715, 5.738, 5.691,
    5.715, 5.691, 5.668, 5.691, 5.644, 5.703, 5.644, 5.656, 5.621, 5.609,
    5.597, 5.55, 5.562, 5.515, 5.539, 5.515, 5.527, 5.492, 5.468, 5.492,
    5.468, 5.48, 5.456, 5.468, 5.445, 5.456, 5.433, 5.409, 5.421, 5.386,
    5.362, 5.433, 5.386, 5.445, 5.398, 5.433, 5.409, 5.445, 5.409, 5.433,
    5.421, 5.468, 5.409, 5.433, 5.421, 5.445, 5.433, 5.48, 5.445, 5.503,
    5.527, 5.468, 5.492, 5.527, 5.574, 5.609, 5.585, 5.609, 5.668, 5.679,
    5.633, 5.668, 5.715, 5.75, 5.762, 5.809, 5.844, 5.879, 5.926, 5.973,
    6.009, 6.044, 6.05, 6.009, 6.038, 6.02, 6.009, 6.044, 6.114, 6.185,
    6.197, 6.208, 6.232, 6.255, 6.267, 6.279, 6.267, 6.302, 6.314, 6.338,
    6.361, 6.302, 6.338, 6.291, 6.349, 6.326,
    6.338, 6.314, 6.291, 6.314, 6.291, 6.302, 6.326, 6.302, 6.338, 6.344,
    6.302, 6.244, 6.267, 6.244, 6.255, 6.232, 6.197, 6.197, 6.185, 6.15,
    6.126, 6.12, 6.114, 6.091, 6.067, 6.032, 6.044, 6.021, 5.997, 6.003,
    5.985, 5.95, 5.962, 5.926, 5.938, 5.903, 5.915, 5.903, 5.891, 5.879,
    5.856, 5.844, 5.842, 5.832, 5.797, 5.75, 5.738, 5.721, 5.733, 5.703,
    5.727, 5.715, 5.691, 5.679, 5.691, 5.656, 5.668, 5.644, 5.668, 5.621,
    5.597, 5.609, 5.585, 5.55, 5.539, 5.527, 5.539, 5.533, 5.515, 5.503,
    5.503, 5.515, 5.539, 5.545, 5.527, 5.503, 5.492, 5.503, 5.515, 5.48,
    5.468, 5.468, 5.468, 5.462, 5.48, 5.486, 5.48, 5.468, 5.48, 5.503,
    5.515, 5.509, 5.527, 5.539, 5.55, 5.562, 5.568, 5.574, 5.562, 5.574,
    5.597, 5.627, 5.633, 5.644, 5.679, 5.715, 5.727, 5.762, 5.785, 5.797,
    5.815, 5.844, 5.856, 5.868, 5.891, 5.926, 5.95, 5.973, 5.997, 6.021,
    6.032, 6.056, 6.067, 6.085, 6.114, 6.138, 6.167, 6.185, 6.197, 6.185,
    6.203, 6.214, 6.232, 6.208, 6.232, 6.244, 6.255, 6.244, 6.258, 6.232,
    6.25, 6.232, 6.244, 6.232, 6.25, 6.232, 6.238, 6.255, 6.238, 6.238,
    6.232, 6.226, 6.214, 6.208, 6.214, 6.203, 6.173, 6.114, 6.109, 6.091,
    6.079, 6.091, 6.079, 6.056, 6.062, 6.044, 6.015, 6.009, 5.997, 5.985,
    5.968, 5.95, 5.926, 5.891, 5.891, 5.879, 5.868, 5.862, 5.856, 5.832,
    5.809, 5.791, 5.785, 5.774, 5.768, 5.762, 5.756, 5.727, 5.703, 5.686,
    5.668, 5.668, 5.633, 5.603, 5.597, 5.597, 5.574, 5.545, 5.527, 5.539,
    5.527, 5.515, 5.498, 5.503, 5.48, 5.498, 5.474, 5.445, 5.404, 5.433,
    5.421, 5.433, 5.404, 5.392, 5.404, 5.386, 5.404, 5.38, 5.365, 5.386,
    5.409, 5.421, 5.392, 5.404, 5.392, 5.409, 5.392, 5.398, 5.409, 5.392,
    5.392, 5.388, 5.386, 5.38, 5.374, 5.409, 5.445, 5.456, 5.456, 5.468,
    5.503, 5.515, 5.521, 5.527, 5.527, 5.533, 5.562, 5.562, 5.574, 5.609,
    5.644, 5.656, 5.679, 5.703, 5.738, 5.762, 5.785, 5.797, 5.821, 5.844,
    5.868, 5.903, 5.926, 5.962, 5.979, 5.985, 6.009, 6.032, 6.056, 6.062,
    6.067, 6.085, 6.103, 6.12, 6.126, 6.138, 6.144, 6.156, 6.161, 6.156,
    6.156, 6.144, 6.161, 6.179, 6.185, 6.191, 6.179, 6.191, 6.203, 6.214,
    6.191, 6.179, 6.179, 6.185, 6.185, 6.173, 6.167, 6.161, 6.156, 6.144,
    6.138, 6.114, 6.103, 6.085, 6.091, 6.097, 6.073, 6.062, 6.05, 6.044,
    6.038, 6.032, 6.021, 6.003, 5.991, 5.973, 5.962, 5.95, 5.926, 5.921,
    5.926, 5.915, 5.891, 5.874, 5.856, 5.844, 5.827, 5.809, 5.791, 5.774,
    5.762, 5.744, 5.727, 5.703, 5.691, 5.679, 5.668, 5.65, 5.638, 5.627,
    5.609, 5.597, 5.586,
]
roberts_yticks = [5.4, 5.6, 5.8, 6.0, 6.2, 6.4]

INK = "#262626"
GRID = "#dfdfdf"


def style_axes(ax, labelsize, ticklen, xpad, ypad, ygrid_width):
    for spine in ax.spines.values():
        spine.set_visible(True)
        spine.set_color(INK)
        spine.set_linewidth(1.1)
    ax.tick_params(which="both", direction="in", top=True, right=True,
                   length=ticklen, width=1.0, color=INK, labelcolor=INK,
                   labelsize=labelsize)
    ax.tick_params(axis="x", pad=xpad)
    ax.tick_params(axis="y", pad=ypad)
    ax.grid(True, axis="x", color=GRID, linewidth=0.9)
    ax.grid(True, axis="y", color=GRID, linewidth=ygrid_width)
    ax.set_axisbelow(True)
    ax.yaxis.set_major_formatter(mticker.FuncFormatter(lambda v, _: f"{v:g}"))


def main():
    assert len(a_days) == len(a_level)
    assert len(prat_hours) == len(prat_amp)
    assert len(roberts_hours) == len(roberts_level)

    sns.set_style("ticks")
    plt.rcParams["font.family"] = ["Liberation Sans", "DejaVu Sans"]
    plt.rcParams["axes.unicode_minus"] = False
    plt.rcParams["mathtext.fontset"] = "custom"
    plt.rcParams["mathtext.rm"] = "Liberation Serif"
    plt.rcParams["mathtext.bf"] = "Liberation Serif:bold"

    df_a = pd.DataFrame({
        "time": pd.Timestamp(A_START) + pd.to_timedelta(a_days, unit="D"),
        "level": a_level,
    })
    df_prat = pd.DataFrame({
        "time": pd.Timestamp(B_START) + pd.to_timedelta(prat_hours, unit="h"),
        "amp": prat_amp,
    })
    df_rob = pd.DataFrame({
        "time": pd.Timestamp(B_START) + pd.to_timedelta(roberts_hours, unit="h"),
        "level": roberts_level,
    })

    fig = plt.figure(figsize=(22.39, 9.56), dpi=100)
    W, H = 2239.0, 956.0
    ax_a = fig.add_axes([106 / W, (H - 770) / H, 924 / W, 729 / H])
    ax_p = fig.add_axes([1254 / W, (H - 355) / H, 933 / W, 309 / H])
    ax_r = fig.add_axes([1254 / W, (H - 783) / H, 933 / W, 308 / H])

    # (a) sea level, March 2011
    sns.lineplot(data=df_a, x="time", y="level", ax=ax_a, color="#0072BD",
                 linewidth=2.2, estimator=None, sort=False, legend=False)
    ax_a.set_xlim(pd.Timestamp("2011-03-10"), pd.Timestamp("2011-03-20"))
    ax_a.set_ylim(5.4, 6.8)
    ax_a.set_xticks(pd.to_datetime(a_xticks))
    ax_a.set_yticks(a_yticks)
    ax_a.xaxis.set_major_formatter(mdates.DateFormatter("%b %d"))
    style_axes(ax_a, labelsize=20, ticklen=7.2, xpad=15.5, ypad=9, ygrid_width=0.9)
    ax_a.set_xlabel("Time", fontsize=22.5, color=INK)
    ax_a.xaxis.label.set_va("center")
    ax_a.xaxis.set_label_coords(0.5, -0.100)
    ax_a.set_ylabel("Sea level [m]", fontsize=22, color=INK)
    ax_a.yaxis.label.set_va("center")
    ax_a.yaxis.set_label_coords(-0.0828, 0.5)
    ax_a.text(0.938, -0.100, "2011", transform=ax_a.transAxes, fontsize=20,
              color=INK, ha="center", va="center")

    # (b) top: Antarctica Base Prat
    sns.lineplot(data=df_prat, x="time", y="amp", ax=ax_p, color="#0000FF",
                 linewidth=1.8, estimator=None, sort=False, legend=False)
    ax_p.set_xlim(pd.Timestamp("2022-01-15"), pd.Timestamp("2022-01-20"))
    ax_p.set_ylim(-0.62, 0.0)
    ax_p.set_yticks(prat_yticks)

    # (b) bottom: Cape Roberts
    sns.lineplot(data=df_rob, x="time", y="level", ax=ax_r, color="#00FF00",
                 linewidth=1.8, estimator=None, sort=False, legend=False)
    ax_r.set_xlim(pd.Timestamp("2022-01-15"), pd.Timestamp("2022-01-20"))
    ax_r.set_ylim(5.365, 6.45)
    ax_r.set_yticks(roberts_yticks)

    for ax, xpad in ((ax_p, 13.2), (ax_r, 14.7)):
        ax.xaxis.set_major_locator(mdates.HourLocator(byhour=[0, 12]))
        ax.xaxis.set_major_formatter(mdates.DateFormatter("%d-%b"))
        style_axes(ax, labelsize=17.5, ticklen=6.5, xpad=xpad, ypad=6.5, ygrid_width=2.0)
        ax.set_xlabel("")

    ax_p.set_ylabel("Amplitude (m)", fontsize=19.5, color=INK)
    ax_p.yaxis.label.set_va("center")
    ax_p.yaxis.set_label_coords(-0.081, 0.5)
    ax_p.text(0.5, 1.062, "Antarctica Base Prat raw data", transform=ax_p.transAxes,
              fontsize=18.5, fontweight="bold", color="black", ha="center", va="center")
    ax_p.text(0.946, -0.200, "2022", transform=ax_p.transAxes, fontsize=17.5,
              color=INK, ha="center", va="center")

    ax_r.set_ylabel("Sea level (m)", fontsize=19.5, color=INK)
    ax_r.yaxis.label.set_va("center")
    ax_r.yaxis.set_label_coords(-0.0715, 0.5)
    ax_r.set_xlabel("Date", fontsize=19, color=INK)
    ax_r.xaxis.label.set_va("center")
    ax_r.xaxis.set_label_coords(0.5, -0.2045)
    ax_r.text(0.5, 1.065, "Cape Roberts raw data", transform=ax_r.transAxes,
              fontsize=18.5, fontweight="bold", color="black", ha="center", va="center")
    ax_r.text(0.946, -0.2045, "2022", transform=ax_r.transAxes, fontsize=17.5,
              color=INK, ha="center", va="center")

    # panel letters
    for x, letter in ((542 / W, "a"), (1694 / W, "b")):
        fig.text(x, 1 - 919 / H, "(" + r"$\mathbf{" + letter + "}$" + ")",
                 fontsize=32, family=["Liberation Serif", "DejaVu Serif"],
                 color="black", ha="center", va="center")

    fig.savefig("out.png", dpi=100)
    plt.close(fig)
    return 0


if __name__ == "__main__":
    raise SystemExit(main())
